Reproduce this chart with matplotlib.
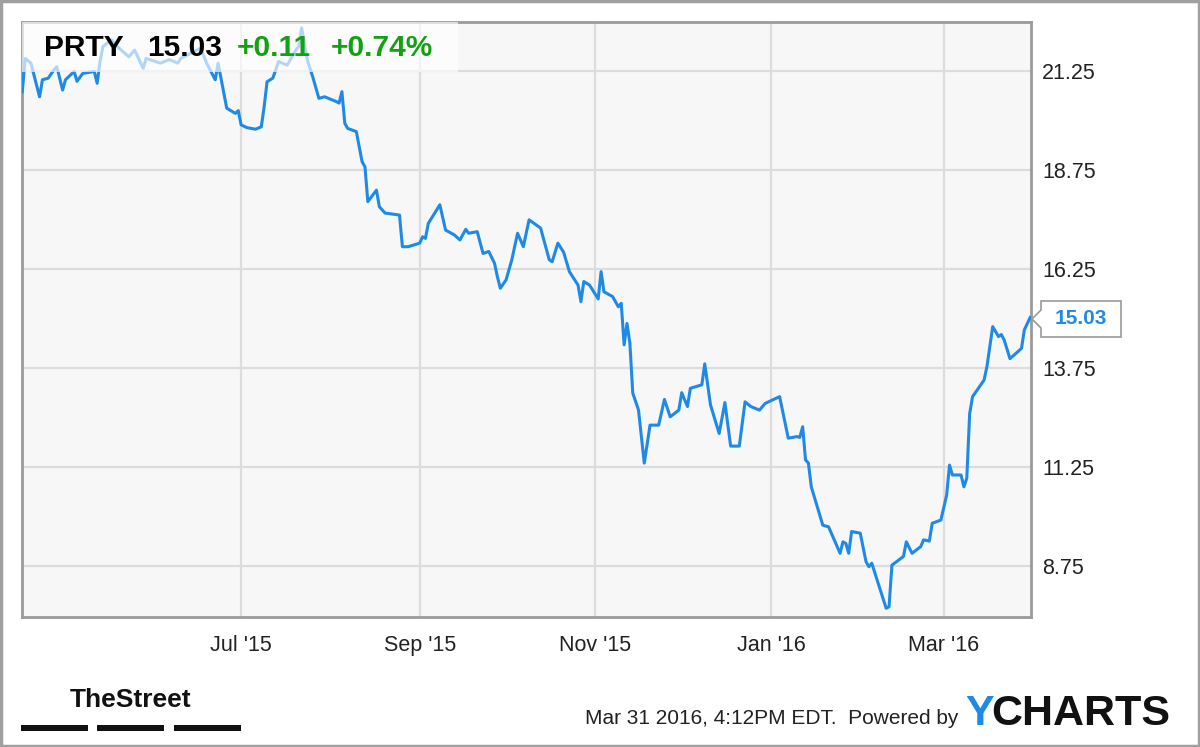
import matplotlib.pyplot as plt
import matplotlib.patches as patches
import pandas as pd

# PRTY daily close (days counted from the first trading day)
start_date = "2015-04-16"
day_offsets = [
    0, 1, 3, 6, 7, 9, 11, 12, 14, 15, 18, 19, 21, 25, 26, 27, 28, 31, 33, 37,
    39, 42, 43, 48, 51, 54, 55, 62, 64, 67, 68, 69, 71, 74, 75, 76, 78, 81, 83, 84,
    85, 87, 89, 92, 95, 96, 97, 99, 101, 103, 105, 109, 110, 111, 112, 113, 116, 118, 119, 120,
    123, 124, 126, 131, 132, 134, 138, 139, 140, 141, 145, 147, 150, 152, 154, 155, 158, 160, 162, 164,
    165, 166, 168, 170, 172, 174, 176, 180, 183, 184, 186, 188, 190, 193, 194, 195, 197, 200, 201, 202,
    205, 207, 208, 209, 210, 211, 212, 214, 216, 218, 221, 223, 225, 228, 229, 231, 232, 236, 237, 239,
    242, 244, 246, 249, 251, 253, 256, 258, 263, 266, 269, 270, 271, 272, 273, 274, 278, 280, 284, 285,
    286, 287, 288, 291, 293, 294, 295, 298, 300, 301, 302, 306, 307, 309, 312, 313, 315, 316, 319, 321,
    322, 323, 326, 327, 328, 329, 330, 334, 335, 337, 339, 340, 341, 343, 347, 348, 350,
]
prices = [
    20.74, 21.58, 21.46, 20.61, 21.04, 21.08, 21.29, 21.37, 20.78, 21.04, 21.25, 21.00, 21.20, 21.25, 20.95, 21.50, 21.88, 22.05, 21.88, 21.62,
    21.79, 21.33, 21.58, 21.46, 21.55, 21.46, 21.58, 21.84, 21.46, 21.04, 21.46, 21.08, 20.32, 20.19, 20.26, 19.90, 19.83, 19.79, 19.85, 20.36,
    20.99, 21.08, 21.50, 21.41, 21.79, 21.88, 22.35, 21.54, 21.08, 20.57, 20.61, 20.49, 20.45, 20.74, 19.94, 19.81, 19.73, 18.97, 18.84, 17.96,
    18.25, 17.83, 17.67, 17.62, 16.82, 16.82, 16.91, 17.07, 17.03, 17.41, 17.88, 17.24, 17.12, 16.99, 17.26, 17.16, 17.20, 16.65, 16.70, 16.40,
    16.06, 15.77, 15.98, 16.49, 17.16, 16.82, 17.50, 17.29, 16.49, 16.44, 16.91, 16.68, 16.19, 15.85, 15.43, 15.94, 15.85, 15.50, 16.19, 15.68,
    15.56, 15.30, 15.39, 14.34, 14.88, 14.38, 13.12, 12.69, 11.35, 12.31, 12.31, 12.96, 12.52, 12.69, 13.13, 12.78, 13.24, 13.33, 13.86, 12.82,
    12.10, 12.88, 11.78, 11.78, 12.90, 12.78, 12.69, 12.86, 13.03, 11.98, 12.02, 12.00, 12.27, 11.43, 11.35, 10.75, 9.78, 9.74, 9.07, 9.36,
    9.32, 9.07, 9.62, 9.58, 8.86, 8.73, 8.82, 8.14, 7.68, 7.72, 8.77, 8.99, 9.36, 9.07, 9.24, 9.41, 9.38, 9.83, 9.91, 10.54,
    11.30, 11.05, 11.05, 10.75, 10.97, 12.60, 13.03, 13.45, 13.79, 14.80, 14.55, 14.60, 14.46, 13.99, 14.25, 14.72, 15.03,
]

y_ticks = [8.75, 11.25, 13.75, 16.25, 18.75, 21.25]
x_ticks = ["2015-07-01", "2015-09-01", "2015-11-01", "2016-01-01", "2016-03-01"]
x_ticklabels = ["Jul '15", "Sep '15", "Nov '15", "Jan '16", "Mar '16"]

ticker = "PRTY"
last_price = "15.03"
change = "+0.11"
change_pct = "+0.74%"
timestamp = "Mar 31 2016, 4:12PM EDT.  Powered by"

plt.rcParams["font.family"] = ["Liberation Sans", "DejaVu Sans"]

blue = "#1f8ae6"
green = "#13a013"
W, H = 1200, 747

dates = pd.Timestamp(start_date) + pd.to_timedelta(day_offsets, unit="D")

fig = plt.figure(figsize=(12, 7.47), dpi=100)
fig.patch.set_facecolor("white")
fig.patches.append(patches.Rectangle((0.001, 0.001), 0.998, 0.997, transform=fig.transFigure,
                                     fill=False, edgecolor="#a0a0a0", lw=2.5))

ax = fig.add_axes([22 / W, 1 - 617 / H, (1031 - 22) / W, (617 - 22) / H])
ax.set_facecolor("#f7f7f7")
ax.plot(dates, prices, color=blue, lw=2.2, zorder=3, solid_joinstyle="round")

ax.set_xlim(pd.Timestamp("2015-04-16") - pd.Timedelta(days=0.1), pd.Timestamp("2016-03-31") + pd.Timedelta(days=0.3))
ax.set_ylim(7.46, 22.5)
ax.set_yticks(y_ticks)
ax.set_yticklabels([f"{t:.2f}" for t in y_ticks])
ax.set_xticks(pd.to_datetime(x_ticks))
ax.set_xticklabels(x_ticklabels)
ax.yaxis.tick_right()
ax.tick_params(axis="y", length=0, pad=8, labelsize=15.5, labelcolor="#222222")
ax.tick_params(axis="x", length=0, pad=13, labelsize=15.5, labelcolor="#222222")
ax.grid(color="#dcdcdc", lw=1.6, zorder=1)
for s in ax.spines.values():
    s.set_color("#9a9a9a")
    s.set_linewidth(2)

# title box
ax.add_patch(patches.Rectangle((22 / W, 1 - 72 / H), (458 - 22) / W, 50 / H, transform=fig.transFigure,
                               facecolor="white", alpha=0.65, edgecolor="none", zorder=4))
ty = 1 - 48 / H
fig.text(44 / W, ty, ticker, fontsize=21.5, fontweight="bold", color="black", va="center", zorder=5)
fig.text(147 / W, ty, last_price, fontsize=21.5, fontweight="bold", color="black", va="center", zorder=5)
fig.text(237 / W, ty, change, fontsize=21.5, fontweight="bold", color=green, va="center", zorder=5)
fig.text(331 / W, ty, change_pct, fontsize=21.5, fontweight="bold", color=green, va="center", zorder=5)

# last price tag
tag_y = 1 - 319 / H
fig.patches.append(patches.Polygon(
    [(1032 / W, tag_y), (1041 / W, tag_y + 9 / H), (1041 / W, 1 - 301 / H), (1121 / W, 1 - 301 / H),
     (1121 / W, 1 - 337 / H), (1041 / W, 1 - 337 / H), (1041 / W, tag_y - 9 / H)],
    closed=True, transform=fig.transFigure, facecolor="white", edgecolor="#9a9a9a", lw=1.2))
fig.text(1081 / W, tag_y, last_price, fontsize=15, fontweight="bold", color=blue, ha="center", va="center")

# footer
fig.text(131 / W, 1 - 700 / H, "TheStreet", fontsize=19, fontweight="bold", color="#111111",
         ha="center", va="center")
for x0, x1 in [(21, 88), (97, 164), (174, 241)]:
    fig.patches.append(patches.Rectangle((x0 / W, 1 - 731 / H), (x1 - x0) / W, 6 / H,
                                         transform=fig.transFigure, facecolor="#111111", edgecolor="none"))
fig.text(958 / W, 1 - 718 / H, timestamp, fontsize=15, color="#222222", ha="right", va="center")
fig.text(965 / W, 1 - 714 / H, "Y", fontsize=31, fontweight="bold", color=blue, ha="left", va="center")
fig.text(991 / W, 1 - 714 / H, "CHARTS", fontsize=31, fontweight="bold", color="#111111", ha="left", va="center")

plt.savefig("out.png", dpi=100)
